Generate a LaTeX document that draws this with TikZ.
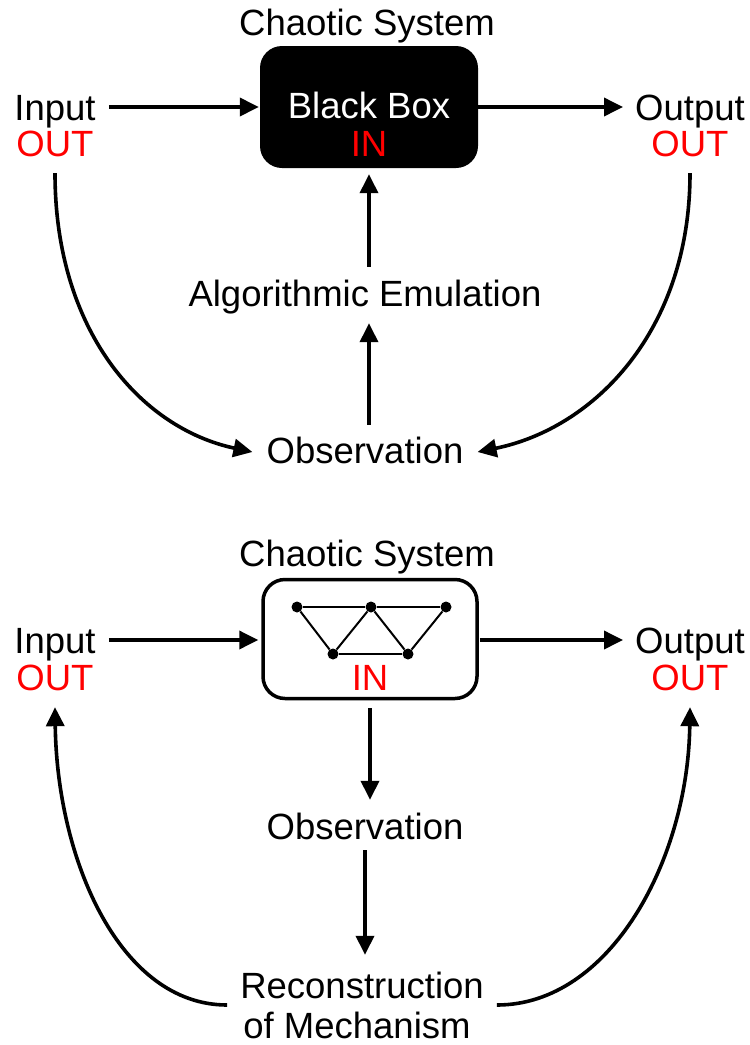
\documentclass[tikz,border=0pt]{standalone}
\usepackage{fontspec}
\setmainfont{Liberation Sans}
\usetikzlibrary{arrows.meta}
\begin{document}
\begin{tikzpicture}[x=1pt,y=-1pt,
  lbl/.style={font=\fontsize{36.5}{40}\selectfont, inner sep=0pt, text height=26pt, text depth=0pt, anchor=center},
  redlbl/.style={lbl, text=red},
  arr/.style={line width=3.6pt, -{Triangle[length=19pt,width=18pt]}},
  sysbox/.style={rounded corners=22pt, minimum width=218pt, minimum height=122pt, inner sep=0pt},
  netline/.style={line width=2pt},
  dot/.style={circle, fill=black, inner sep=0pt, minimum size=11pt}]
\useasboundingbox (0,0) rectangle (750,1045);

% ---------- top diagram ----------
\node[lbl] (cs1) at (367,22) {Chaotic System};
\node[sysbox, fill=black] (box1) at (369,107) {};
\node[lbl, text=white] (bb) at (369,105) {Black Box};
\node[redlbl] (in1) at (369,143) {IN};
\node[lbl] (inp1) at (55,107) {Input};
\node[redlbl] (out1) at (55,143) {OUT};
\node[lbl] (outp1) at (690,107) {Output};
\node[redlbl] (out2) at (690,143) {OUT};
\node[lbl] (alg) at (365,293) {Algorithmic Emulation};
\node[lbl] (obs1) at (365,450) {Observation};

\draw[arr] ([xshift=13pt]inp1.east) -- ([xshift=-1pt]box1.west |- inp1.east);
\draw[arr] (box1.east |- outp1.west) -- ([xshift=-12pt]outp1.west);
\draw[arr] ([yshift=13pt]alg.north -| box1.south) -- ([yshift=-6pt]box1.south);
\draw[arr] ([yshift=12pt]obs1.north -| box1.south) -- ([yshift=-17pt]alg.south -| box1.south);
\draw[arr] ([yshift=-17pt]out1.south) .. controls (55,330) and (140,428) .. ([xshift=-14pt,yshift=-2pt]obs1.west);
\draw[arr] ([yshift=-17pt]out2.south) .. controls (690,330) and (595,428) .. ([xshift=14pt,yshift=-2pt]obs1.east);

% ---------- bottom diagram ----------
\node[lbl] (cs2) at (367,553) {Chaotic System};
\node[sysbox, draw=black, line width=3.5pt, fill=white, minimum width=214pt, minimum height=119pt] (box2) at (370,639) {};
\node[redlbl] (in2) at (370,677) {IN};
\node[lbl] (inp2) at (55,640) {Input};
\node[redlbl] (out3) at (55,677) {OUT};
\node[lbl] (outp2) at (690,640) {Output};
\node[redlbl] (out4) at (690,677) {OUT};
\node[lbl] (obs2) at (365,826) {Observation};
\node[lbl] (rec1) at (362,985) {Reconstruction};
\node[lbl] (rec2) at (357,1025) {of Mechanism};

% network inside the box
\node[dot] (n1) at (297,607) {};
\node[dot] (n2) at (371,607) {};
\node[dot] (n3) at (446,607) {};
\node[dot] (n4) at (333,654) {};
\node[dot] (n5) at (408,654) {};
\draw[netline] (n1) -- (n2) -- (n3);
\draw[netline] (n4) -- (n5);
\draw[netline] (n1) -- (n4) -- (n2) -- (n5) -- (n3);

\draw[arr] ([xshift=13pt]inp2.east) -- ([xshift=-3pt]box2.west |- inp2.east);
\draw[arr] ([xshift=1pt]box2.east |- outp2.west) -- ([xshift=-12pt]outp2.west);
\draw[arr] ([yshift=-8pt]box2.south) -- ([yshift=13pt]obs2.north -| box2.south);
\draw[arr] ([yshift=-11pt]obs2.south) -- ([yshift=17pt]rec1.north -| obs2.south);
\draw[arr] ([xshift=-13pt,yshift=-20pt]rec1.west) .. controls (120,1005) and (57,860) .. ([yshift=-17pt]out3.south);
\draw[arr] ([xshift=13pt,yshift=-20pt]rec1.east) .. controls (610,1005) and (688,860) .. ([yshift=-17pt]out4.south);
\end{tikzpicture}
\end{document}
